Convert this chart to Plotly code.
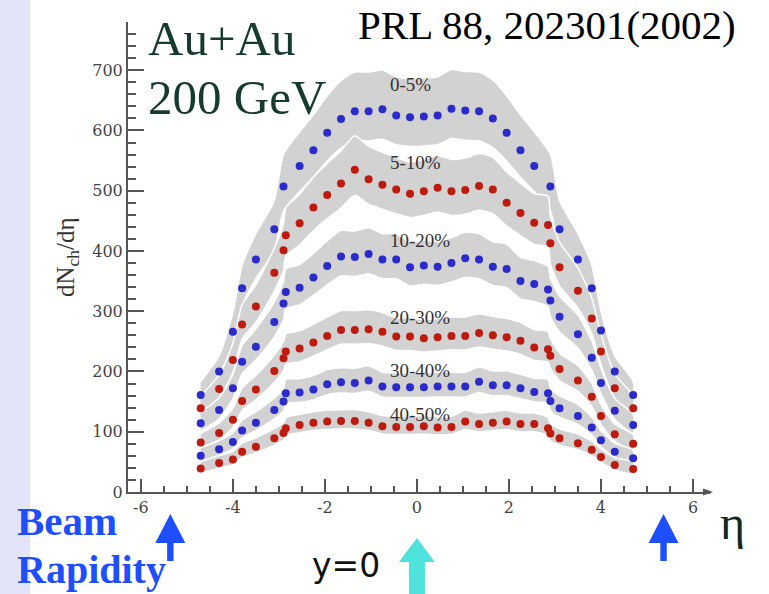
import plotly.graph_objects as go

# ---------------- data ----------------
CENTRALITY = ["0-5%", "5-10%", "10-20%", "20-30%", "30-40%", "40-50%"]

ETA_0_5 = [-4.7, -4.3, -4.0, -3.8, -3.5, -3.1, -2.9, -2.55, -2.25, -1.95, -1.65, -1.35, -1.05, -0.75, -0.45, -0.15,
           0.15, 0.45, 0.75, 1.05, 1.35, 1.65, 1.95, 2.25, 2.55, 2.9, 3.1, 3.5, 3.8, 4.0, 4.3, 4.7]
DN_0_5 = [161, 200, 266, 338, 386, 436, 507, 541, 567, 596, 619, 632, 632, 635, 625, 622,
          623, 625, 636, 633, 632, 620, 596, 567, 541, 507, 436, 386, 338, 268, 200, 161]

ETA_OTHER = [-4.7, -4.3, -4.0, -3.8, -3.5, -3.1, -2.9,
             -2.85, -2.55, -2.25, -1.95, -1.65, -1.35, -1.05, -0.75, -0.45, -0.15,
             0.15, 0.45, 0.75, 1.05, 1.35, 1.65, 1.95, 2.25, 2.55, 2.85,
             2.9, 3.1, 3.5, 3.8, 4.0, 4.3, 4.7]
DN_5_10 = [139, 171, 219, 278, 308, 364, 401,
           426, 446, 472, 493, 512, 535, 519, 510, 502, 495,
           499, 505, 499, 501, 508, 502, 480, 463, 447, 443,
           413, 373, 334, 288, 233, 172, 139]
DN_10_20 = [114, 136, 172, 216, 241, 282, 313,
            332, 339, 356, 375, 391, 390, 395, 386, 386, 373,
            376, 374, 380, 388, 386, 374, 370, 350, 345, 336,
            318, 291, 262, 223, 181, 135, 111]
DN_20_30 = [82, 98, 120, 151, 170, 201, 222,
            233, 238, 248, 259, 269, 269, 270, 266, 258, 258,
            255, 257, 259, 259, 264, 260, 257, 251, 240, 237,
            226, 204, 185, 158, 126, 96, 80]
DN_30_40 = [60, 71, 83, 102, 115, 136, 150,
            164, 165, 170, 179, 182, 181, 185, 175, 174, 174,
            174, 175, 175, 175, 183, 177, 177, 172, 166, 164,
            151, 139, 126, 107, 86, 67, 56]
DN_40_50 = [39, 48, 54, 67, 75, 89, 98,
            106, 111, 115, 117, 118, 118, 115, 109, 108, 108,
            109, 107, 108, 117, 113, 115, 117, 113, 113, 106,
            97, 89, 81, 70, 58, 45, 38]

LABEL_Y = [677, 547, 418, 289, 201, 128]   # where the centrality labels sit
SYS_UP_FRAC, SYS_UP_ABS = 0.09, 8          # systematic band
SYS_DN_FRAC, SYS_DN_ABS = 0.07, 5
BEAM_RAPIDITY = 5.36

X_TICKS = [-6, -4, -2, 0, 2, 4, 6]
Y_TICKS = [0, 100, 200, 300, 400, 500, 600, 700]

SERIES = [
    (ETA_0_5, DN_0_5, "#2B2BCC"),
    (ETA_OTHER, DN_5_10, "#BE1A0E"),
    (ETA_OTHER, DN_10_20, "#2B2BCC"),
    (ETA_OTHER, DN_20_30, "#BE1A0E"),
    (ETA_OTHER, DN_30_40, "#2B2BCC"),
    (ETA_OTHER, DN_40_50, "#BE1A0E"),
]

# ---------------- geometry ----------------
W, H = 769, 594
ML, MR, MT, MB = 128, 59, 22, 102
X_RANGE = [-6.28, 6.37]
Y_RANGE = [0, 780]


def px(x):
    return (x - ML) / (W - ML - MR)


def py(y):
    return (H - MB - y) / (H - MT - MB)


fig = go.Figure()

# systematic bands
for eta, dn, col in SERIES:
    up = [v * (1 + SYS_UP_FRAC) + SYS_UP_ABS for v in dn]
    lo = [v * (1 - SYS_DN_FRAC) - SYS_DN_ABS for v in dn]
    fig.add_trace(go.Scatter(
        x=list(eta) + list(eta)[::-1], y=up + lo[::-1],
        mode="lines", fill="toself", fillcolor="#D2D2D2",
        line=dict(color="white", width=1.5, shape="spline", smoothing=0.6),
        hoverinfo="skip", showlegend=False))

# data points
for (eta, dn, col), name in zip(SERIES, CENTRALITY):
    fig.add_trace(go.Scatter(
        x=eta, y=dn, mode="markers", name=name,
        marker=dict(size=8, color=col, line=dict(width=0)),
        showlegend=False))

serif = "Liberation Serif, Times New Roman, serif"
ann = []
for name, yv in zip(CENTRALITY, LABEL_Y):
    ann.append(dict(x=-0.63, y=yv, xref="x", yref="y", text=name, showarrow=False,
                    xanchor="left", yanchor="middle",
                    font=dict(family=serif, size=19, color="#333333")))

ann += [
    dict(x=px(146), y=py(38.5), text="Au+Au", xanchor="left", yanchor="middle",
         font=dict(family=serif, size=49, color="#163A2E")),
    dict(x=px(146), y=py(97.5), text="200 GeV", xanchor="left", yanchor="middle",
         font=dict(family=serif, size=49, color="#163A2E")),
    dict(x=px(356), y=py(25), text="PRL 88, 202301(2002)", xanchor="left", yanchor="middle",
         font=dict(family=serif, size=41, color="#000000")),
    dict(x=px(15), y=py(521), text="<b>Beam</b>", xanchor="left", yanchor="middle",
         font=dict(family=serif, size=41, color="#1D4EFF")),
    dict(x=px(15), y=py(594), text="<b>Rapidity</b>", xanchor="left", yanchor="bottom",
         font=dict(family=serif, size=40, color="#1D4EFF")),
    dict(x=px(310), y=py(565), text="y=0", xanchor="left", yanchor="middle",
         font=dict(family="DejaVu Sans, Verdana, sans-serif", size=33, color="#111111")),
    dict(x=px(718), y=py(522), text="η", xanchor="left", yanchor="middle",
         font=dict(family=serif, size=48, color="#102A20")),
    dict(x=px(67), y=py(257), text="dN<sub>ch</sub>/dη", textangle=-90,
         xanchor="center", yanchor="middle",
         font=dict(family=serif, size=25, color="#333333")),
]
for a in ann:
    a.setdefault("xref", "paper")
    a.setdefault("yref", "paper")
    a.setdefault("showarrow", False)

shapes = [
    # lavender strip at the left edge
    dict(type="rect", xref="paper", yref="paper", x0=px(0), x1=px(30), y0=py(H), y1=py(0),
         fillcolor="#E4E4F8", line=dict(width=0), layer="below"),
    # arrow tip at the end of the eta axis
    dict(type="path", xref="paper", yref="paper",
         path=f"M {px(703)} {py(488.5)} L {px(713)} {py(492)} L {px(703)} {py(495.5)} Z",
         fillcolor="#555555", line=dict(width=0)),
]


def arrow(xc, tip, base, tail, head_hw, shaft_hw, color):
    hw = head_hw / 46.0
    sw = shaft_hw / 46.0
    p = (f"M {xc} {py(tip)} L {xc + hw} {py(base)} L {xc + sw} {py(base)} "
         f"L {xc + sw} {py(tail)} L {xc - sw} {py(tail)} L {xc - sw} {py(base)} "
         f"L {xc - hw} {py(base)} Z")
    return dict(type="path", xref="x", yref="paper", path=p, fillcolor=color,
                line=dict(width=0))


shapes.append(arrow(-BEAM_RAPIDITY, 514, 543, 561, 15, 3.2, "#1D4EFF"))
shapes.append(arrow(BEAM_RAPIDITY, 514, 543, 561, 15, 3.2, "#1D4EFF"))
shapes.append(arrow(0.0, 538, 562, 600, 18, 8, "#4DE2DA"))

axis_font = dict(family="DejaVu Serif, serif", size=16, color="#444444")
fig.update_layout(
    width=W, height=H, autosize=False,
    margin=dict(l=ML, r=MR, t=MT, b=MB, pad=0),
    paper_bgcolor="white", plot_bgcolor="white",
    showlegend=False,
    annotations=ann, shapes=shapes,
    xaxis=dict(range=X_RANGE, tickvals=X_TICKS, ticktext=[str(v) for v in X_TICKS],
               showgrid=False, zeroline=False, showline=True, linecolor="#555555", linewidth=2,
               ticks="inside", ticklen=13, tickwidth=1.5, tickcolor="#555555",
               minor=dict(dtick=0.5, tick0=0, ticks="inside", ticklen=6, tickwidth=1.5,
                          tickcolor="#555555", showgrid=False),
               tickfont=axis_font, fixedrange=True),
    yaxis=dict(range=Y_RANGE, tickvals=Y_TICKS, ticktext=[str(v) for v in Y_TICKS],
               showgrid=False, zeroline=False, showline=True, linecolor="#555555", linewidth=2,
               ticks="inside", ticklen=16, tickwidth=1.5, tickcolor="#555555",
               minor=dict(dtick=20, tick0=0, ticks="inside", ticklen=8, tickwidth=1.5,
                          tickcolor="#555555", showgrid=False),
               tickfont=axis_font, fixedrange=True),
)

fig.write_html("out.html")
